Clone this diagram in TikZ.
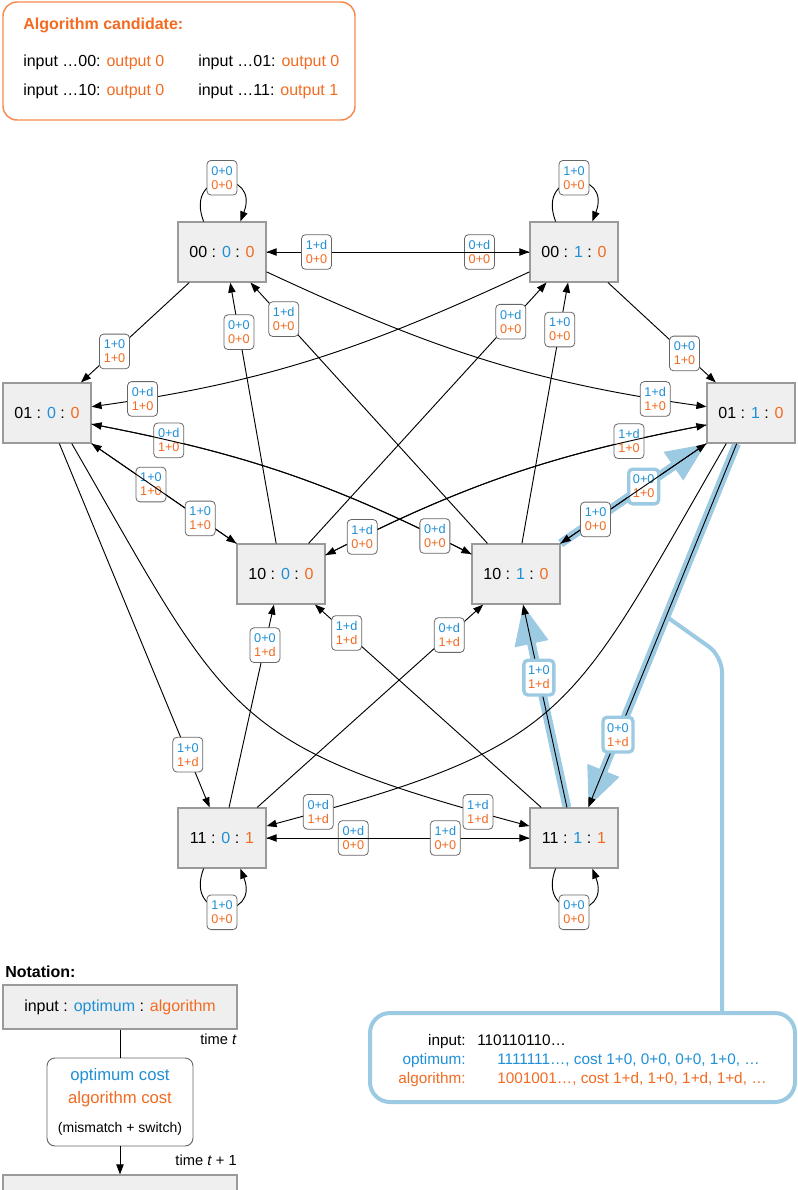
\documentclass[tikz,border=0pt]{standalone}
\usepackage{fontspec}
\setmainfont{Liberation Sans}
\usetikzlibrary{arrows.meta,backgrounds}

\definecolor{optblue}{HTML}{1F8FD6}
\definecolor{algorange}{HTML}{F26B21}
\definecolor{hlblue}{HTML}{9DCAE3}
\definecolor{statefill}{HTML}{EFEFEF}
\definecolor{stateline}{HTML}{9A9A9A}
\definecolor{candline}{HTML}{F58A4E}

\newcommand{\costs}[2]{\textcolor{optblue}{#1}\\\textcolor{algorange}{#2}}
\newcommand{\triple}[3]{#1 : \textcolor{optblue}{#2} : \textcolor{algorange}{#3}}

\tikzset{
  statebox/.style={draw=stateline, fill=statefill, line width=0.9pt, minimum width=66pt,
    minimum height=45pt, inner sep=0pt, font=\fontsize{12}{14}\selectfont},
  cost/.style={draw=gray!80!black, fill=white, rounded corners=3pt, line width=0.6pt,
    align=center, inner sep=1.5pt, minimum width=22.5pt, minimum height=26pt,
    font=\fontsize{9.5}{10.5}\selectfont},
  hlcost/.style={cost, draw=hlblue, line width=2.5pt},
  trans/.style={line width=0.7pt, -{Triangle[length=7.5pt,width=5.5pt]}},
  band/.style={hlblue, line width=6.5pt, -{Triangle[length=30pt,width=24pt]}},
  txt/.style={inner sep=0pt, font=\fontsize{12}{14}\selectfont},
}

\begin{document}
\begin{tikzpicture}[x=0.75pt, y=0.75pt]
    \useasboundingbox (0,0) rectangle (797,-1190);

    % --- Algorithm candidate ---
    \node[draw=candline, line width=1.1pt, rounded corners=10.5pt, minimum width=264pt, minimum height=88.5pt] (cand) at (179,-61) {};
    \node[txt, anchor=base west, text=algorange, font=\bfseries\fontsize{12}{14}\selectfont] (candtitle) at (23,-29) {Algorithm candidate:};
    \node[txt, anchor=base west] (in00) at (23,-66) {input …00: \textcolor{algorange}{output 0}};
    \node[txt, anchor=base west] (in01) at (198,-66) {input …01: \textcolor{algorange}{output 0}};
    \node[txt, anchor=base west] (in10) at (23,-95) {input …10: \textcolor{algorange}{output 0}};
    \node[txt, anchor=base west] (in11) at (198,-95) {input …11: \textcolor{algorange}{output 1}};

    % --- States: name / x / y / input / optimum / algorithm ---
    \foreach \n/\x/\y/\vin/\vopt/\valg in {n000/222/-252/00/0/0, n001/574/-252/00/1/0,
        n010/47/-413/01/0/0, n011/751/-413/01/1/0, n100/281/-574/10/0/0, n101/516/-574/10/1/0,
        n110/222/-838/11/0/1, n111/574/-838/11/1/1}
        \node[statebox] (\n) at (\x,\y) {\triple{\vin}{\vopt}{\valg}};

    % --- Example trace ---
    \node[draw=hlblue, line width=3pt, rounded corners=15pt, minimum width=318.75pt, minimum height=66.75pt] (trace) at (582.5,-1057.5) {};
    \coordinate (elbow) at (722,-656);
    \begin{scope}[txt, font=\fontsize{11.5}{14}\selectfont]
        \node[anchor=base east] (trinl) at (466,-1045) {input:};
        \node[anchor=base west] (trinv) at (477,-1045) {110110110…};
        \node[anchor=base east, text=optblue] (troptl) at (466,-1064) {optimum:};
        \node[anchor=base west, text=optblue] (troptv) at (497,-1064) {1111111…, cost 1+0, 0+0, 0+0, 1+0, …};
        \node[anchor=base east, text=algorange] (tralgl) at (466,-1083) {algorithm:};
        \node[anchor=base west, text=algorange] (tralgv) at (497,-1083) {1001001…, cost 1+d, 1+0, 1+d, 1+d, …};
    \end{scope}

    % --- Highlighted cycle ---
    \begin{scope}[on background layer]
        \draw[band] (n101.north east) -- (n011.south west);
        \draw[band] (n011.-115) -- coordinate[pos=0.475] (hook) (n111.65);
        \draw[band] (n111.103) -- (n101.-77);
        \draw[hlblue, line width=3pt, rounded corners=12pt] (hook) -- (elbow) -- (elbow |- trace.north);
    \end{scope}

    % --- Transitions from input 00 ---
    \draw[trans] (n000.121) .. controls +(-20,52) and +(20,52) .. (n000.59) node[cost, pos=0.5, yshift=3.5pt] (k1) {\costs{0+0}{0+0}};
    \draw[trans] (n001.121) .. controls +(-20,52) and +(20,52) .. (n001.59) node[cost, pos=0.5, yshift=3.5pt] (k2) {\costs{1+0}{0+0}};
    \draw[trans] (n000) -- node[cost, pos=0.81] (k3) {\costs{0+d}{0+0}} (n001);
    \draw[trans] (n001) -- node[cost, pos=0.81] (k4) {\costs{1+d}{0+0}} (n000);
    \draw[trans] (n000.-137) -- node[cost, pos=0.69] (k5) {\costs{1+0}{1+0}} (n010.42);
    \draw[trans] (n001.-42) -- node[cost, pos=0.71] (k6) {\costs{0+0}{1+0}} (n011.139);
    \draw[trans] (n000.-24) to[out=-25, in=172] node[cost, pos=0.9] (k7) {\costs{1+d}{1+0}} (n011.172);
    \draw[trans] (n001.-156) to[out=-155, in=8] node[cost, pos=0.9] (k8) {\costs{0+d}{1+0}} (n010.8);

    % --- Transitions from input 10 ---
    \draw[trans] (n100.99.5) -- node[cost, pos=0.81] (k9) {\costs{0+0}{0+0}} (n000.-75);
    \draw[trans] (n101.133) -- node[cost, pos=0.86] (k10) {\costs{1+d}{0+0}} (n000.-47);
    \draw[trans] (n100.48) -- node[cost, pos=0.85] (k11) {\costs{0+d}{0+0}} (n001.-132);
    \draw[trans] (n101.79) -- node[cost, pos=0.82] (k12) {\costs{1+0}{0+0}} (n001.-101);
    \draw[trans] (n100.north west) -- node[cost, pos=0.59] (k13) {\costs{1+0}{1+0}} (n010.south east);
    \draw[trans] (n101.156.5) to[bend right=8] node[cost, pos=0.82] (k14) {\costs{0+d}{1+0}} (n010.-14.6);
    \draw[trans] (n100.23.5) to[bend left=8] node[cost, pos=0.82] (k15) {\costs{1+d}{1+0}} (n011.-165.4);
    \draw[trans] (n101.north east) -- node[hlcost, pos=0.57] (k16) {\costs{0+0}{1+0}} (n011.south west);

    % --- Transitions from input 01 ---
    \draw[trans] (n010.south east) -- node[cost, pos=0.75] (k17) {\costs{1+0}{1+0}} (n100.north west);
    \draw[trans] (n010.-14.6) to[bend left=8] node[cost, pos=0.91] (k18) {\costs{0+d}{0+0}} (n101.156.5);
    \draw[trans] (n011.-165.4) to[bend right=8] node[cost, pos=0.91] (k19) {\costs{1+d}{0+0}} (n100.23.5);
    \draw[trans] (n011.south west) -- node[cost, pos=0.76] (k20) {\costs{1+0}{0+0}} (n101.north east);
    \draw[trans] (n010.-68) -- node[cost, pos=0.855] (k21) {\costs{1+0}{1+d}} (n110.112);
    \draw[trans] (n010.-51) to[out=-60, in=165, looseness=1.35] node[cost, pos=0.94] (k22) {\costs{1+d}{1+d}} (n111.165);
    \draw[trans] (n011.-129) to[out=-120, in=15, looseness=1.35] node[cost, pos=0.94] (k23) {\costs{0+d}{1+d}} (n110.15);
    \draw[trans] (n011.-115) -- node[hlcost, pos=0.8] (k24) {\costs{0+0}{1+d}} (n111.65);

    % --- Transitions from input 11 ---
    \draw[trans] (n110.77) -- node[cost, pos=0.8] (k25) {\costs{0+0}{1+d}} (n100.-103);
    \draw[trans] (n111.137) -- node[cost, pos=0.86] (k26) {\costs{1+d}{1+d}} (n100.-42);
    \draw[trans] (n110.41.4) -- node[cost, pos=0.85] (k27) {\costs{0+d}{1+d}} (n101.-137.6);
    \draw[trans] (n111.103) -- node[hlcost, pos=0.64] (k28) {\costs{1+0}{1+d}} (n101.-77);
    \draw[trans] (n111) -- node[cost, pos=0.67] (k29) {\costs{0+d}{0+0}} (n110);
    \draw[trans] (n110) -- node[cost, pos=0.68] (k30) {\costs{1+d}{0+0}} (n111);
    \draw[trans] (n110.-121) .. controls +(-20,-52) and +(20,-52) .. (n110.-59) node[cost, pos=0.5, yshift=-3.5pt] (k31) {\costs{1+0}{0+0}};
    \draw[trans] (n111.-121) .. controls +(-20,-52) and +(20,-52) .. (n111.-59) node[cost, pos=0.5, yshift=-3.5pt] (k32) {\costs{0+0}{0+0}};

    % --- Notation ---
    \node[txt, anchor=base west, font=\bfseries\fontsize{12}{14}\selectfont] (nottitle) at (5,-977) {Notation:};
    \node[statebox, minimum width=175.5pt, minimum height=33pt] (legstate) at (120,-1007) {input : \textcolor{optblue}{optimum} : \textcolor{algorange}{algorithm}};
    \node[draw=gray!80!black, fill=white, line width=0.7pt, rounded corners=6pt, minimum width=109.5pt, minimum height=66pt, align=center, font=\fontsize{12.5}{14}\selectfont] (legcost) at (120,-1102)
        {\textcolor{optblue}{optimum cost}\\[3.5pt]\textcolor{algorange}{algorithm cost}\\[8pt]{\fontsize{10.5}{12}\selectfont (mismatch + switch)}};
    \begin{scope}
        \clip (0,0) rectangle (797,-1190);
        \node[statebox, minimum width=175.5pt, minimum height=33pt] (legnext) at (120,-1197) {};
    \end{scope}
    \draw[line width=0.7pt] (legstate) -- (legcost);
    \draw[trans] (legcost) -- (legnext);
    \node[txt, anchor=base east, font=\fontsize{11}{13}\selectfont] (tnow) at (237,-1044) {time \textit{t}};
    \node[txt, anchor=base east, font=\fontsize{11}{13}\selectfont] (tnext) at (237,-1165) {time \textit{t} + 1};
\end{tikzpicture}
\end{document}
